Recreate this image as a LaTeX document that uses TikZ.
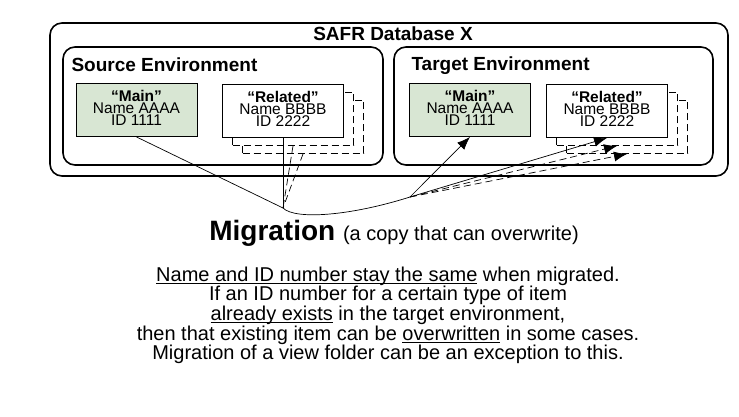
\documentclass[tikz,border=0pt]{standalone}
\usepackage{fontspec}
\setmainfont{Liberation Sans}
\usetikzlibrary{arrows.meta}
\definecolor{mainfill}{RGB}{216,230,211}
\newcommand{\undl}[1]{\setbox0\hbox{#1}\rlap{\rule[-2.2pt]{\wd0}{0.8pt}}\box0\relax}
\tikzset{
  envbox/.style={draw, line width=1.6pt, rounded corners=12pt},
  itembox/.style={draw, line width=0.9pt, minimum width=121pt, minimum height=53pt,
    inner sep=0pt, text depth=4pt, align=center, font=\fontsize{15.5}{12.2}\selectfont},
  mainbox/.style={itembox, fill=mainfill},
  relbox/.style={itembox, fill=white},
  shadowbox/.style={itembox, fill=white, dash pattern=on 7pt off 4pt},
  copyline/.style={line width=0.7pt},
  copydash/.style={line width=0.7pt, dash pattern=on 7pt off 4pt},
  copyarrow/.style={-{Latex[length=13pt,width=10pt]}}
}
\begin{document}
\begin{tikzpicture}[x=1pt, y=-1pt]
\useasboundingbox (0,0) rectangle (739,417);

% database and environments
\draw[envbox] (50,23) rectangle (728,176);
\node[font=\bfseries\fontsize{19}{19}\selectfont, anchor=base] (dbtitle) at (393,40.5) {SAFR Database X};
\draw[envbox] (63,47) rectangle (383,165);
\draw[envbox] (394,47) rectangle (713,165);
\node[font=\bfseries\fontsize{19}{19}\selectfont, anchor=base west] (srctitle) at (68,71.5) {Source Environment};
\node[font=\bfseries\fontsize{19}{19}\selectfont, anchor=base west] (tgttitle) at (408,71) {Target Environment};

% source items
\node[mainbox] (srcmain) at (136.5,110) {\textbf{“Main”}\\Name AAAA\\ID 1111};
\node[shadowbox] (srcrelB) at (303,127) {};
\node[shadowbox] (srcrelA) at (293,119) {};
\node[relbox] (srcrel) at (283,111) {\textbf{“Related”}\\Name BBBB\\ID 2222};

% target items
\node[mainbox] (tgtmain) at (470,110) {\textbf{“Main”}\\Name AAAA\\ID 1111};
\node[shadowbox] (tgtrelB) at (627,127) {};
\node[shadowbox] (tgtrelA) at (617,119) {};
\node[relbox] (tgtrel) at (607,111) {\textbf{“Related”}\\Name BBBB\\ID 2222};

% migration path
\coordinate (gather) at (283,208);
\coordinate (spread) at (410,197);
\draw[copyline] (srcmain.south) -- (gather);
\draw[copyline] (srcrel.south) -- (gather);
\draw[copydash] (srcrelA.south) -- (gather);
\draw[copydash] (srcrelB.south) -- (gather);
\draw[copyline] (gather) .. controls (295,220) and (350,216) .. (spread);
\draw[copyline, copyarrow] (spread) -- (tgtmain.south);
\draw[copyline, copyarrow] (spread) -- (tgtrel.south);
\draw[copydash, copyarrow] (spread) -- (tgtrelA.south);
\draw[copydash, copyarrow] (spread) -- (tgtrelB.south);

% captions
\node[anchor=base] (migration) at (394,240)
  {\fontsize{28}{28}\selectfont\textbf{Migration} \fontsize{20}{20}\selectfont(a copy that can overwrite)};
\node[anchor=north, align=center, inner sep=0pt, font=\fontsize{20}{17.5}\selectfont] (notes) at (388,266.5)
  {\undl{Name and ID number stay the same} when migrated.\\
   If an ID number for a certain type of item\\
   \undl{already exists} in the target environment,\\
   then that existing item can be \undl{overwritten} in some cases.\\
   Migration of a view folder can be an exception to this.};
\end{tikzpicture}
\end{document}
